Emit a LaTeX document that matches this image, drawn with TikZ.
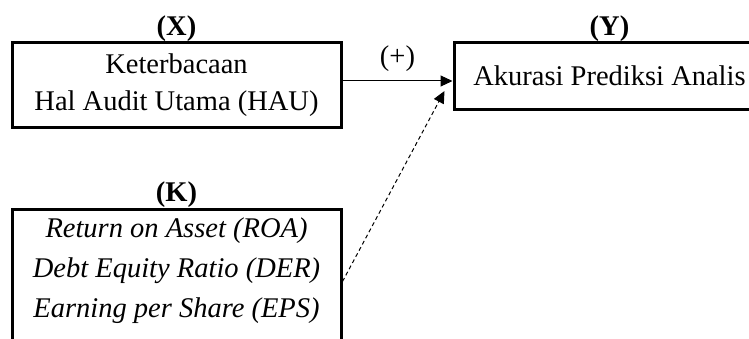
\documentclass[tikz,border=0pt]{standalone}
\usepackage{fontspec}
\setmainfont{Liberation Serif}
\usetikzlibrary{arrows.meta,positioning,calc}

\begin{document}
\begin{tikzpicture}[x=1pt,y=1pt,
    varbox/.style={draw=black,line width=3pt,align=center,
        font=\fontsize{28.5}{37}\selectfont,inner sep=4pt},
    varlabel/.style={font=\fontsize{28.5}{34}\selectfont\bfseries,inner sep=0pt},
    linkarrow/.style={-{Triangle[length=12pt,width=11pt]},draw=black,line width=1pt},
    ctrlarrow/.style={linkarrow,dash pattern=on 4pt off 3pt},
    linklabel/.style={font=\fontsize{28.5}{34}\selectfont,inner sep=3pt}
]
\useasboundingbox (0,0) rectangle (749,338);
\clip (0,0) rectangle (749,338);
\node[varbox,minimum width=329pt,minimum height=84pt] (xbox) at (176.5,253)
    {Keterbacaan\\Hal Audit Utama (HAU)};
\node[varbox,minimum width=311pt,minimum height=66pt,
    right=110pt of xbox.north east,anchor=north west] (ybox)
    {Akurasi Prediksi Analis};
\node[varbox,font=\fontsize{28.5}{40}\selectfont\itshape,minimum width=329pt,
    inner ysep=9pt,text depth=60pt,below=79pt of xbox] (kbox)
    {Return on Asset (ROA)\\Debt Equity Ratio (DER)\\Earning per Share (EPS)};
\node[varlabel,above=0pt of xbox] (xlab) {(X)};
\node[varlabel,above=0pt of ybox] (ylab) {(Y)};
\node[varlabel,above=0pt of kbox] (klab) {(K)};
\coordinate (xout) at ([yshift=4pt]xbox.east);
\coordinate (kout) at ([yshift=-74pt]kbox.north east);
\coordinate (yin) at ($(ybox.west)+(-8,-15)$);
\draw[linkarrow] (xout) -- node[linklabel,above=6pt] {(+)} (xout -| ybox.west);
\draw[ctrlarrow] (kout) -- (yin);
\end{tikzpicture}
\end{document}
